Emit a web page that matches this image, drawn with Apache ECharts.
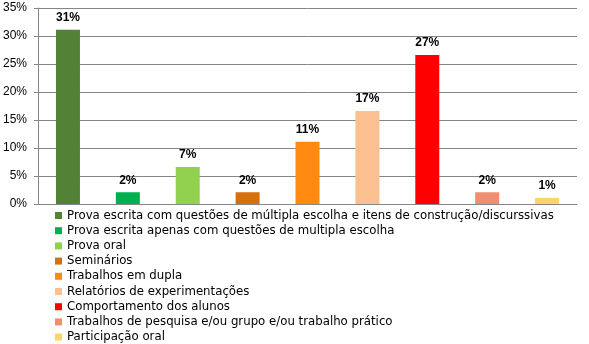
<!DOCTYPE html>
<html><head><meta charset="utf-8">
<script src="https://cdn.jsdelivr.net/npm/echarts@6/dist/echarts.min.js"></script>
<style>html,body{margin:0;padding:0;background:#fff}#c{width:589px;height:344px}</style>
</head><body><div id="c"></div>
<script>
var categories = ["Prova escrita com questões de múltipla escolha e itens de construção/discurssivas",
"Prova escrita apenas com questões de multipla escolha",
"Prova oral",
"Seminários",
"Trabalhos em dupla",
"Relatórios de experimentações",
"Comportamento dos alunos",
"Trabalhos de pesquisa e/ou grupo e/ou trabalho prático",
"Participação oral"];
var values = [31.1, 2.1, 6.6, 2.1, 11.1, 16.6, 26.6, 2.1, 1.1];
var colors = ["#538135", "#00B050", "#92D050", "#D6700A", "#FF8A0F", "#FAC090", "#FF0000", "#EE8F71", "#F9D56B"];
var yTicks = [0, 5, 10, 15, 20, 25, 30, 35];

var series = categories.map(function(name, i){
  var d = categories.map(function(_, j){ return j === i ? values[i] : null; });
  return {
    name: name, type: 'bar', stack: 'all', data: d, barWidth: 24,
    itemStyle: {color: colors[i]},
    label: {show: true, position: 'top', distance: 6,
      formatter: function(p){ return Math.round(p.value) + '%'; },
      fontFamily: 'Liberation Sans, Arial', fontSize: 12, fontWeight: 'bold', color: '#000'}
  };
});
var chart = echarts.init(document.getElementById('c'));
chart.setOption({
  animation: false,
  grid: {left: 37, right: 12, top: 8, bottom: 140, containLabel: false},
  legend: {orient: 'vertical', left: 55, top: 208, height: 300, padding: 0, itemWidth: 7, itemHeight: 7, itemGap: 0.2,
    icon: 'rect', data: categories,
    textStyle: {fontFamily: 'DejaVu Sans', fontSize: 11.75, color: '#000', lineHeight: 15}},
  xAxis: {type: 'category', data: categories, axisLabel: {show: false}, axisTick: {show: false},
    axisLine: {lineStyle: {color: '#868686'}}},
  yAxis: {type: 'value', min: yTicks[0], max: yTicks[yTicks.length-1], interval: 5,
    axisLabel: {formatter: '{value}%', fontFamily: 'Liberation Sans, Arial', fontSize: 12, color: '#000', margin: 11},
    axisLine: {show: true, lineStyle: {color: '#868686'}},
    axisTick: {show: true, length: 4, lineStyle: {color: '#868686'}},
    splitLine: {lineStyle: {color: '#868686'}}},
  series: series
});
</script></body></html>
